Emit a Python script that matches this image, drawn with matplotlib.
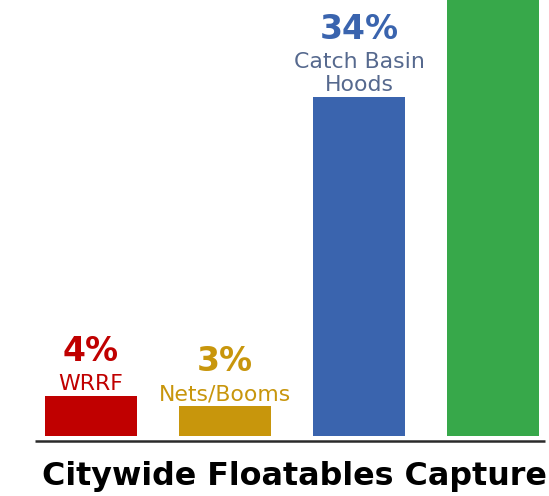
import matplotlib
matplotlib.use("Agg")
import matplotlib.pyplot as plt

# data
categories = ["WRRF", "Nets/Booms", "Catch Basin\nHoods", "Other"]
values = [4, 3, 34, 59]
pct_labels = ["4%", "3%", "34%", ""]
bar_colors = ["#C00000", "#C8960C", "#3A64AE", "#37A84A"]
pct_colors = ["#C00000", "#C8960C", "#3A64AE", "#37A84A"]
sub_colors = ["#C00000", "#C8960C", "#56698E", "#37A84A"]
show_label = [True, True, True, False]

DPI = 72
fig = plt.figure(figsize=(549 / DPI, 496 / DPI), dpi=DPI)
ax = fig.add_axes([0, 60 / 496, 1, 436 / 496])

x = list(range(len(values)))
ax.bar(x, values, width=0.68, color=bar_colors)
ax.set_xlim(-91 / 134, 3 + 56 / 134)
ax.set_ylim(0, 436 / 9.97)
ax.axis("off")

# baseline rule a little below the bars
ax.plot([-56 / 134, 3 + 52 / 134], [-0.5, -0.5], color="#2a2a2a", lw=2.5,
        clip_on=False, solid_capstyle="butt")

for i, v in enumerate(values):
    if not show_label[i]:
        continue
    lines = categories[i].split("\n")
    off = 6
    for line in reversed(lines):
        ax.annotate(line, (i, v), xytext=(0, off), textcoords="offset points",
                    ha="center", va="baseline", fontsize=22, color=sub_colors[i])
        off += 23
    off += 6
    ax.annotate(pct_labels[i], (i, v), xytext=(0, off), textcoords="offset points",
                ha="center", va="baseline", fontsize=33, fontweight="bold",
                color=pct_colors[i])

fig.text(294 / 549, 11 / 496, "Citywide Floatables Capture", ha="center",
         va="baseline", fontsize=31.8, fontweight="bold", color="black")

fig.savefig("out.png", dpi=DPI)
